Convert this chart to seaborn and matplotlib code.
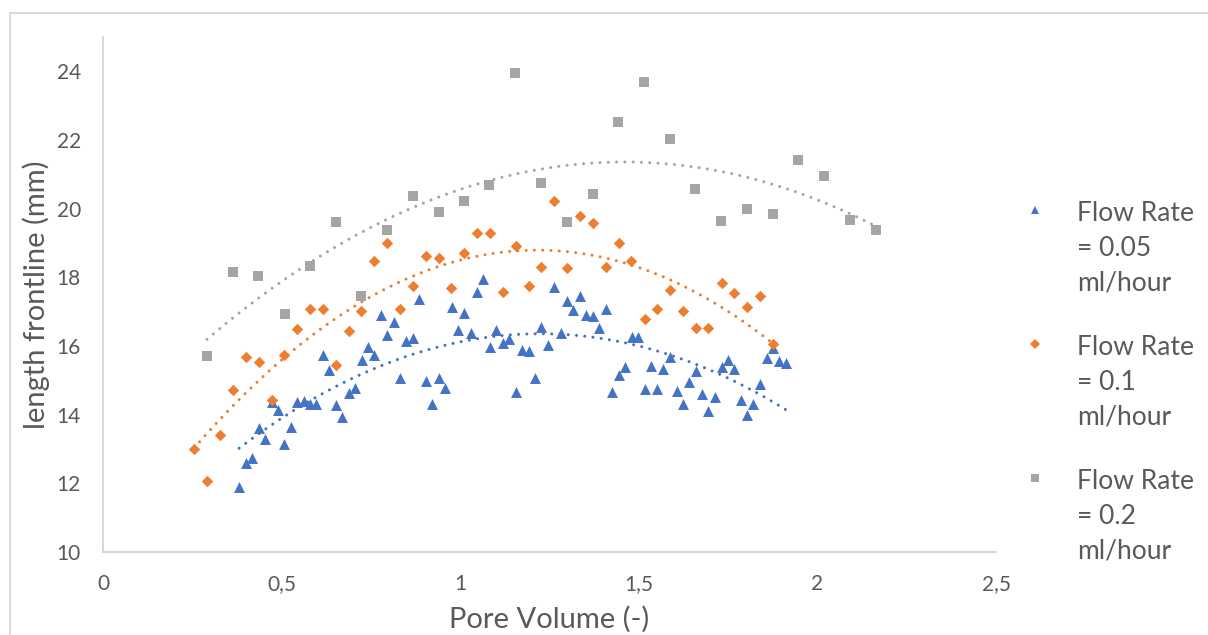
import numpy as np
import pandas as pd
import matplotlib
matplotlib.use("Agg")
import matplotlib.pyplot as plt
from matplotlib.lines import Line2D
import seaborn as sns

# ---------------- data ----------------
blue_x = [0.381, 0.400, 0.418, 0.436, 0.454, 0.472, 0.490, 0.508, 0.526, 0.544,
          0.563, 0.580, 0.597, 0.616, 0.634, 0.651, 0.670, 0.688, 0.706, 0.724,
          0.742, 0.760, 0.778, 0.796, 0.814, 0.831, 0.849, 0.867, 0.885, 0.904,
          0.922, 0.940, 0.958, 0.976, 0.994, 1.011, 1.029, 1.047, 1.065, 1.083,
          1.101, 1.120, 1.138, 1.155, 1.173, 1.192, 1.209, 1.227, 1.246, 1.263,
          1.281, 1.299, 1.317, 1.335, 1.353, 1.372, 1.389, 1.407, 1.426, 1.444,
          1.462, 1.480, 1.499, 1.516, 1.534, 1.552, 1.569, 1.588, 1.606, 1.624,
          1.641, 1.659, 1.678, 1.695, 1.714, 1.732, 1.749, 1.767, 1.786, 1.804,
          1.821, 1.839, 1.858, 1.876, 1.893, 1.911]
blue_y = [11.88, 12.58, 12.73, 13.60, 13.28, 14.38, 14.13, 13.16, 13.65, 14.38,
          14.40, 14.31, 14.31, 15.73, 15.30, 14.28, 13.94, 14.64, 14.77, 15.59,
          15.96, 15.73, 16.90, 16.31, 16.71, 15.06, 16.15, 16.23, 17.36, 14.99,
          14.31, 15.08, 14.77, 17.13, 16.46, 16.95, 16.37, 17.57, 17.95, 15.96,
          16.46, 16.08, 16.21, 14.67, 15.88, 15.86, 15.06, 16.56, 16.04, 17.72,
          16.37, 17.32, 17.05, 17.46, 16.91, 16.87, 16.51, 17.09, 14.66, 15.16,
          15.39, 16.27, 16.25, 14.75, 15.41, 14.75, 15.34, 15.69, 14.69, 14.31,
          14.95, 15.28, 14.59, 14.10, 14.52, 15.39, 15.59, 15.34, 14.42, 13.98,
          14.31, 14.88, 15.64, 15.93, 15.57, 15.51]

orange_x = [0.255, 0.292, 0.328, 0.363, 0.400, 0.436, 0.472, 0.508, 0.543, 0.580,
            0.615, 0.651, 0.689, 0.723, 0.760, 0.796, 0.831, 0.867, 0.904, 0.940,
            0.975, 1.011, 1.047, 1.083, 1.119, 1.155, 1.192, 1.227, 1.262, 1.299,
            1.336, 1.372, 1.408, 1.444, 1.479, 1.516, 1.552, 1.588, 1.624, 1.659,
            1.695, 1.732, 1.767, 1.804, 1.839, 1.875]
orange_y = [13.01, 12.08, 13.41, 14.71, 15.68, 15.54, 14.43, 15.73, 16.50, 17.07,
            17.08, 15.44, 16.44, 17.03, 18.48, 18.99, 17.08, 17.76, 18.61, 18.55,
            17.68, 18.70, 19.30, 19.30, 17.56, 18.91, 17.75, 18.31, 20.21, 18.26,
            19.78, 19.57, 18.29, 18.99, 18.49, 16.80, 17.09, 17.64, 17.03, 16.51,
            16.51, 17.84, 17.53, 17.13, 17.47, 16.05]

gray_x = [0.291, 0.364, 0.434, 0.510, 0.580, 0.652, 0.722, 0.795, 0.868, 0.941,
          1.011, 1.081, 1.153, 1.226, 1.299, 1.372, 1.442, 1.515, 1.587, 1.657,
          1.730, 1.803, 1.876, 1.946, 2.018, 2.091, 2.164]
gray_y = [15.71, 18.15, 18.03, 16.93, 18.33, 19.61, 17.45, 19.37, 20.36, 19.90,
          20.22, 20.68, 23.94, 20.74, 19.61, 20.42, 22.52, 23.68, 22.02, 20.57,
          19.64, 19.99, 19.84, 21.41, 20.95, 19.67, 19.37]

series_labels = ["Flow Rate\n= 0.05\nml/hour", "Flow Rate\n= 0.1\nml/hour",
                 "Flow Rate\n= 0.2\nml/hour"]
x_ticks = [0, 0.5, 1, 1.5, 2, 2.5]
x_tick_labels = ["0", "0,5", "1", "1,5", "2", "2,5"]
y_ticks = [10, 12, 14, 16, 18, 20, 22, 24]

# ---------------- style ----------------
sns.set_theme(style="white")
plt.rcParams["font.family"] = ["Lato", "DejaVu Sans"]

colors = ["#4472C4", "#ED7D31", "#A5A5A5"]
markers = ["^", "D", "s"]
sizes = [62, 34, 62]
text_color = "#595959"

fig = plt.figure(figsize=(12.08, 6.35), dpi=100)
ax = fig.add_axes([103 / 1208, 83 / 635, (996 - 103) / 1208, (552 - 37) / 635])

data = [(blue_x, blue_y), (orange_x, orange_y), (gray_x, gray_y)]
handles = []
for (xs, ys), c, m, s, lab in zip(data, colors, markers, sizes, series_labels):
    df = pd.DataFrame({"x": xs, "y": ys})
    sns.scatterplot(data=df, x="x", y="y", ax=ax, color=c, marker=m, s=s,
                    linewidth=0, zorder=3)
    sns.regplot(data=df, x="x", y="y", ax=ax, order=2, ci=None, scatter=False,
                line_kws=dict(color=c, lw=2.2, linestyle=(0, (0.01, 2.7)),
                              dash_capstyle="round", zorder=2))
    handles.append(Line2D([], [], color=c, marker=m, linestyle="none",
                          markersize=np.sqrt(s) * 0.8, markeredgewidth=0))

ax.set_xlim(0, 2.5)
ax.set_ylim(10, 25)
ax.set_xticks(x_ticks)
ax.set_xticklabels(x_tick_labels)
ax.set_yticks(y_ticks)
ax.tick_params(axis="both", length=0, pad=16, labelsize=15, labelcolor=text_color)
ax.set_xlabel("Pore Volume (-)", fontsize=21, color=text_color, labelpad=8.5)
ax.set_ylabel("length frontline (mm)", fontsize=21, color=text_color, labelpad=4.5)
for side in ["top", "right"]:
    ax.spines[side].set_visible(False)
for side in ["left", "bottom"]:
    ax.spines[side].set_color("#d0d0d0")
    ax.spines[side].set_linewidth(1.2)
ax.grid(False)

leg = fig.legend(handles, series_labels, loc="upper left",
                 bbox_to_anchor=(1023.5 / 1208, 1 - 201 / 635),
                 frameon=False, fontsize=19, handlelength=0.87,
                 handletextpad=1.16, labelspacing=1.51, borderpad=0,
                 borderaxespad=0, labelcolor=text_color)
for t in leg.get_texts():
    t.set_linespacing(1.48)
for col in leg._legend_handle_box.get_children():
    for hp in col.get_children():
        hp.align = "top"

# chart-area border (top and left edges visible)
fig.add_artist(Line2D([9.5 / 1208, 9.5 / 1208, 1.0], [0.0, 1 - 12.5 / 635, 1 - 12.5 / 635],
                      transform=fig.transFigure, color="#d9d9d9", lw=1.5))

fig.savefig("out.png", dpi=100)
